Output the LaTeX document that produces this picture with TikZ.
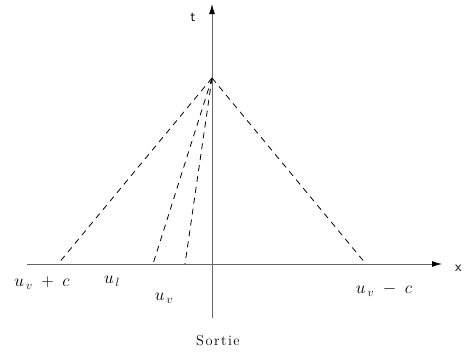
\documentclass[tikz,border=0pt]{standalone}
\usetikzlibrary{arrows.meta}
\begin{document}
\begin{tikzpicture}[x=1pt,y=-1pt,
  axis/.style={draw=black!60, line width=1pt, -{Latex[length=10pt,width=6pt,black]}},
  wave/.style={line width=0.8pt, dash pattern=on 6pt off 5pt},
  lab/.style={inner sep=0pt, font=\LARGE}]
\useasboundingbox (0,0) rectangle (464,356);
\coordinate (xs) at (27,264);
\coordinate (xe) at (442,264);
\coordinate (ts) at (212,318);
\coordinate (te) at (212,4);
\coordinate (apex) at (212,78);
\coordinate (a) at (58,264);
\coordinate (b) at (153,264);
\coordinate (c) at (185,264);
\coordinate (d) at (366,264);
\draw[axis] (xs) -- (xe);
\draw[axis] (ts) -- (te);
\draw[wave] (apex) -- (a);
\draw[wave] (apex) -- (b);
\draw[wave] (apex) -- (c);
\draw[wave] (apex) -- (d);
\node[lab, font=\Large] (tl) at (193,17) {\sffamily t};
\node[lab, font=\Large, anchor=west] (xl) at (455,268) {\sffamily x};
\node[lab] (l1) at (42,283) {$u_{\,v} \;+\; c$};
\node[lab] (l2) at (112,281) {$u_{\,l}$};
\node[lab] (l3) at (164,298) {$u_{\,v}$};
\node[lab] (l4) at (384,290) {$u_{\,v} \;-\; c$};
\node[lab, font=\Large] (so) at (218,341) {S\kern1.5pt o\kern1.5pt r\kern1.5pt t\kern1.5pt i\kern1.5pt e};
\end{tikzpicture}
\end{document}
